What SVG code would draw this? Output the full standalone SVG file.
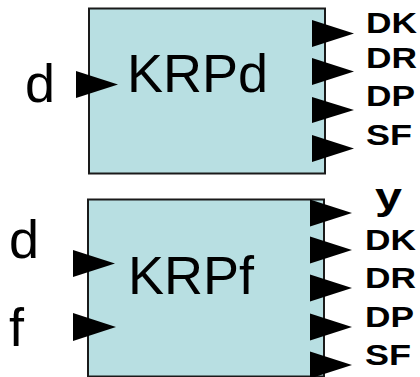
<svg xmlns="http://www.w3.org/2000/svg" width="420" height="377" viewBox="0 0 420 377">
<style>
.box{fill:#b8dfe2;stroke:#1a1a1a;stroke-width:2}
.title{font-family:"Liberation Sans",Arial,sans-serif;font-size:54px;fill:#000}
.in{font-family:"Liberation Sans",Arial,sans-serif;font-size:54px;fill:#000}
.out{font-family:"Liberation Sans",Arial,sans-serif;font-size:29px;font-weight:bold;fill:#000}
.tri{fill:#000}
</style>
<rect width="420" height="377" fill="#fff"/>
<g id="KRPd">
  <rect class="box" x="89" y="8.5" width="236" height="165"/>
  <text class="title" x="127" y="92">KRPd</text>
  <text class="in" x="25" y="102">d</text>
  <text class="out" x="366" y="33" textLength="51" lengthAdjust="spacingAndGlyphs">DK</text>
  <text class="out" x="366" y="68" textLength="51" lengthAdjust="spacingAndGlyphs">DR</text>
  <text class="out" x="366" y="106" textLength="49" lengthAdjust="spacingAndGlyphs">DP</text>
  <text class="out" x="366" y="145" textLength="46" lengthAdjust="spacingAndGlyphs">SF</text>
</g>
<g id="KRPf">
  <rect class="box" x="88" y="199.5" width="236" height="177"/>
  <text class="title" x="128" y="294">KRPf</text>
  <text class="in" x="9" y="258">d</text>
  <text class="in" x="9" y="346">f</text>
  <text class="out" x="375" y="209" style="font-size:36px" textLength="27" lengthAdjust="spacingAndGlyphs">y</text>
  <text class="out" x="365" y="250" textLength="51" lengthAdjust="spacingAndGlyphs">DK</text>
  <text class="out" x="365" y="288" textLength="51" lengthAdjust="spacingAndGlyphs">DR</text>
  <text class="out" x="365" y="327" textLength="49" lengthAdjust="spacingAndGlyphs">DP</text>
  <text class="out" x="365" y="365" textLength="46" lengthAdjust="spacingAndGlyphs">SF</text>
</g>
<g id="connectors">
  <polygon class="tri" points="76,71 118,84.5 76,98"/>
  <polygon class="tri" points="312,20 354,33.5 312,47"/>
  <polygon class="tri" points="312,58 354,71.5 312,85"/>
  <polygon class="tri" points="312,97 354,110 312,123"/>
  <polygon class="tri" points="312,135 354,148.5 312,162"/>
  <polygon class="tri" points="73,250 115,263.5 73,277"/>
  <polygon class="tri" points="73,313 116,327 73,341"/>
  <polygon class="tri" points="310,199.5 352,213 310,226.5"/>
  <polygon class="tri" points="310,236.5 352,250 310,263.5"/>
  <polygon class="tri" points="310,274.5 352,288 310,301.5"/>
  <polygon class="tri" points="310,313.5 352,327 310,340.5"/>
  <polygon class="tri" points="310,351.5 352,365 310,378.5"/>
</g>
</svg>
